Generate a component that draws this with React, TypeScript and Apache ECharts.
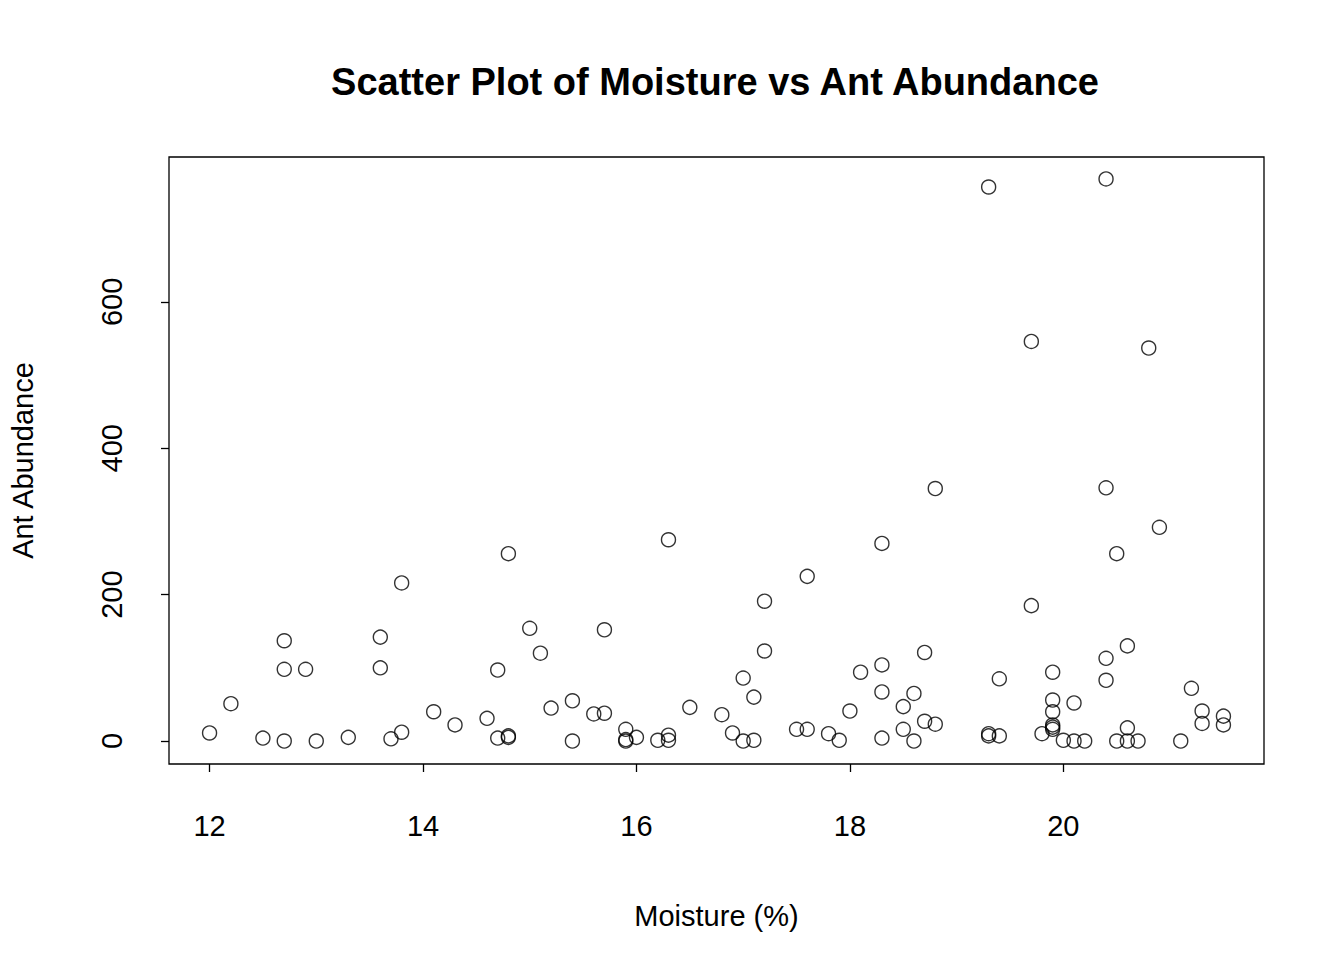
import { useEffect, useRef } from "react";
import * as echarts from "echarts";

const moisture = [
  12.0, 12.2, 12.5, 12.7, 12.7, 12.7, 12.9, 13.0, 13.3, 13.6, 13.6, 13.7, 13.8, 13.8, 14.1, 14.3, 14.6, 14.7,
  14.7, 14.8, 14.8, 14.8, 15.0, 15.1, 15.2, 15.4, 15.4, 15.6, 15.7, 15.7, 15.9, 15.9, 15.9, 16.0, 16.2, 16.3,
  16.3, 16.3, 16.5, 16.8, 16.9, 17.0, 17.0, 17.1, 17.1, 17.2, 17.2, 17.5, 17.6, 17.6, 17.8, 17.9, 18.0, 18.1,
  18.3, 18.3, 18.3, 18.3, 18.5, 18.5, 18.6, 18.6, 18.7, 18.7, 18.8, 18.8, 19.3, 19.3, 19.3, 19.4, 19.4, 19.7,
  19.7, 19.8, 19.9, 19.9, 19.9, 19.9, 19.9, 19.9, 20.0, 20.1, 20.1, 20.2, 20.4, 20.4, 20.4, 20.4, 20.5, 20.5,
  20.6, 20.6, 20.6, 20.7, 20.8, 20.9, 21.1, 21.2, 21.3, 21.3, 21.5, 21.5,
];
const abundance = [
  11, 51, 4, 137, 98, 0, 98, 0, 5, 142, 100, 3, 216, 12, 40, 22, 31, 97,
  4, 256, 5, 7, 154, 120, 45, 55, 0, 37, 152, 38, 16, 0, 2, 5, 1, 275,
  8, 1, 46, 36, 11, 86, 0, 60, 1, 191, 123, 16, 16, 225, 10, 1, 41, 94,
  270, 104, 67, 4, 47, 16, 65, 0, 121, 27, 345, 23, 757, 10, 7, 85, 7, 546,
  185, 10, 94, 56, 40, 22, 16, 19, 1, 52, 0, 0, 768, 346, 113, 83, 256, 0,
  130, 18, 0, 0, 537, 292, 0, 72, 41, 24, 34, 22,
];
const xTicks = [12, 14, 16, 18, 20];
const yTicks = [0, 200, 400, 600];

const font = "'Liberation Sans', Arial, sans-serif";

export default function App() {
  const ref = useRef<HTMLDivElement>(null);

  useEffect(() => {
    document.body.style.margin = "0";
    if (!ref.current) return;
    const chart = echarts.init(ref.current, undefined, { renderer: "svg" });
    const axisCommon = {
      axisLine: { show: false, onZero: false },
      splitLine: { show: false },
      nameLocation: "middle" as const,
      nameTextStyle: { color: "#000", fontSize: 29, fontFamily: font },
    };
    chart.setOption({
      animation: false,
      backgroundColor: "#fff",
      title: {
        text: "Scatter Plot of Moisture vs Ant Abundance",
        left: 710,
        top: 58,
        textAlign: "center",
        textStyle: { color: "#000", fontSize: 38, fontWeight: "bold", fontFamily: font },
      },
      grid: { left: 157, right: 80, top: 157, bottom: 196, show: true, borderColor: "#000", borderWidth: 1.3, backgroundColor: "transparent" },
      xAxis: {
        ...axisCommon,
        type: "value",
        min: 11.62,
        max: 21.88,
        name: "Moisture (%)",
        nameGap: 137,
        axisTick: { show: true, length: 8, inside: false, lineStyle: { color: "#000", width: 1.3 }, customValues: xTicks },
        axisLabel: { color: "#000", fontSize: 29, fontFamily: font, margin: 62, customValues: xTicks, verticalAlign: "middle" },
      },
      yAxis: {
        ...axisCommon,
        type: "value",
        min: -31.4,
        max: 798,
        name: "Ant Abundance",
        nameGap: 132,
        axisTick: { show: true, length: 8, inside: false, lineStyle: { color: "#000", width: 1.3 }, customValues: yTicks },
        axisLabel: { color: "#000", fontSize: 29, fontFamily: font, margin: 57, rotate: 90, align: "center", verticalAlign: "middle", customValues: yTicks },
      },
      series: [
        {
          type: "scatter",
          data: moisture.map((m, i) => [m, abundance[i]]),
          symbol: "circle",
          symbolSize: 14,
          itemStyle: { color: "transparent", borderColor: "#000", borderWidth: 1.4 },
        },
      ],
    });
    return () => chart.dispose();
  }, []);

  return <div ref={ref} style={{ width: 1344, height: 960 }} />;
}
